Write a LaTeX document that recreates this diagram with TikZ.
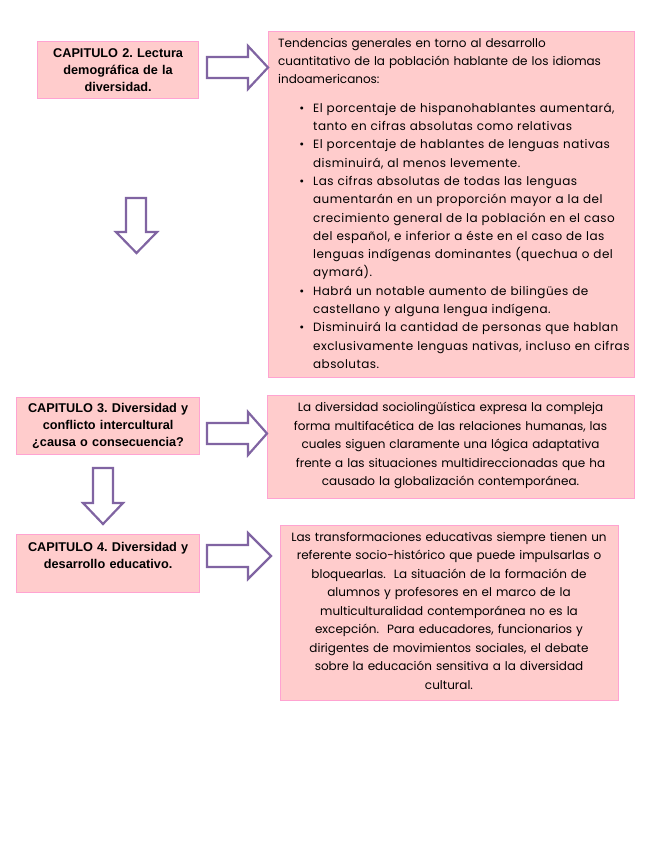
\documentclass[tikz,border=0pt]{standalone}
\usepackage{fontspec}
\setmainfont{Poppins}
\newfontfamily\capfont{Liberation Sans}
\frenchspacing
\definecolor{boxfill}{HTML}{FFCCCC}
\definecolor{boxline}{HTML}{FFA3D1}
\definecolor{arrline}{HTML}{8064A2}
\tikzset{
  capbox/.style={draw=boxline, fill=boxfill, line width=1.2pt, inner sep=0pt, anchor=north west,
    align=center, font=\capfont\bfseries\fontsize{12.7}{17}\selectfont},
  infobox/.style={draw=boxline, fill=boxfill, line width=1.2pt, inner sep=0pt, anchor=north west},
  bodytext/.style={font=\fontsize{12}{18.3}\selectfont, inner sep=0pt},
  blockarrow/.style={draw=arrline, fill=white, line width=2.2pt, line join=miter}
}
\begin{document}
\begin{tikzpicture}[x=1pt,y=-1pt]
\useasboundingbox[fill=white] (0,0) rectangle (655,848);

% left chapter boxes
\node[capbox, text width=155pt, minimum width=161pt, minimum height=57pt] (c2) at (37,41)
  {CAPITULO 2. Lectura\\ demográfica de la\\ diversidad.};
\node[capbox, text width=178pt, minimum width=183pt, minimum height=57pt] (c3) at (16,397)
  {CAPITULO 3. Diversidad y\\ conflicto intercultural\\ ¿causa o consecuencia?};
\node[capbox, text width=178pt, minimum width=183pt, minimum height=58pt] (c4) at (16,534)
  {CAPITULO 4. Diversidad y\\ desarrollo educativo.\\ \mbox{}};

% right boxes
\node[infobox, minimum width=366pt, minimum height=346pt] (r2) at (268,31) {};
\node[bodytext, anchor=north west, text width=362pt, align=left] (r2t) at (278,38)
{Tendencias generales en torno al desarrollo\\
cuantitativo de la población hablante de los idiomas\\
indoamericanos:
\begin{list}{\textbullet}{\setlength\leftmargin{35pt}\setlength\labelsep{9pt}\setlength\labelwidth{20pt}%
  \setlength\itemsep{0pt}\setlength\parsep{0pt}\setlength\topsep{10pt}\setlength\partopsep{0pt}}
\addfontfeature{LetterSpace=3.6}%
\item El porcentaje de hispanohablantes aumentará,\\ tanto en cifras absolutas como relativas
\item El porcentaje de hablantes de lenguas nativas\\ disminuirá, al menos levemente.
\item Las cifras absolutas de todas las lenguas\\ aumentarán en un proporción mayor a la del\\ crecimiento general de la población en el caso\\ del español, e inferior a éste en el caso de las\\ lenguas indígenas dominantes (quechua o del\\ aymará).
\item Habrá un notable aumento de bilingües de\\ castellano y alguna lengua indígena.
\item Disminuirá la cantidad de personas que hablan\\ exclusivamente lenguas nativas, incluso en cifras\\ absolutas.
\end{list}};

\node[infobox, minimum width=367pt, minimum height=103pt] (r3) at (267,395) {};
\node[bodytext, font=\fontsize{12}{18.5}\selectfont, align=center, text width=362pt, anchor=north] (r3t) at (450.5,402)
{La diversidad sociolingüística expresa la compleja\\
forma multifacética de las relaciones humanas, las\\
cuales siguen claramente una lógica adaptativa\\
frente a las situaciones multidireccionadas que ha\\
causado la globalización contemporánea.};

\node[infobox, minimum width=338pt, minimum height=175pt] (r4) at (280,525) {};
\node[bodytext, font=\fontsize{12}{18.5}\selectfont, align=center, text width=334pt, anchor=north] (r4t) at (449,532)
{Las transformaciones educativas siempre tienen un\\
referente socio-histórico que puede impulsarlas o\\
bloquearlas.\ \ La situación de la formación de\\
alumnos y profesores en el marco de la\\
multiculturalidad contemporánea no es la\\
excepción.\ \ Para educadores, funcionarios y\\
dirigentes de movimientos sociales, el debate\\
sobre la educación sensitiva a la diversidad\\
cultural.};

% block arrows
\draw[blockarrow] (207,57) -- (248,57) -- (248,46) -- (r2.west |- 0,67.5) -- (248,89) -- (248,78) -- (207,78) -- cycle;
\draw[blockarrow] (207,423) -- (248,423) -- (248,412) -- (r3.west |- 0,433.5) -- (248,455) -- (248,444) -- (207,444) -- cycle;
\draw[blockarrow] (207,545) -- (248,545) -- (248,533) -- (271,556) -- (248,579) -- (248,567) -- (207,567) -- cycle;
\draw[blockarrow] (126,198) -- (146,198) -- (146,232) -- (157,232) -- (136.5,253) -- (116,232) -- (126,232) -- cycle;
\draw[blockarrow] (93,468) -- (113,468) -- (113,503) -- (123,503) -- (103,524) -- (83,503) -- (93,503) -- cycle;
\end{tikzpicture}
\end{document}
